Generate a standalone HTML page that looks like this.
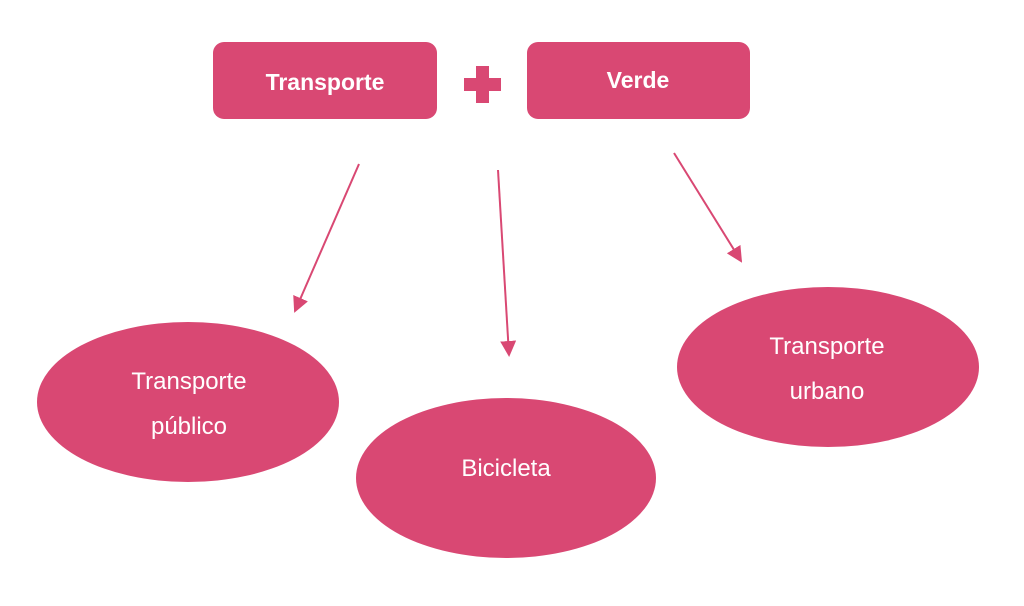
<!DOCTYPE html>
<html><head><meta charset="utf-8"><style>
html,body{margin:0;padding:0;background:#fff;}
svg{display:block;}
text{font-family:"Liberation Sans",sans-serif;fill:#fff;}
</style></head><body>
<svg width="1024" height="606" viewBox="0 0 1024 606" xmlns="http://www.w3.org/2000/svg">
<defs>
<marker id="ah" markerWidth="16" markerHeight="16" refX="14" refY="8" orient="auto" markerUnits="userSpaceOnUse">
<path d="M0,0 L16,8 L0,16 z" fill="#d94873"/>
</marker>
</defs>
<rect x="213" y="42" width="224" height="77" rx="11" fill="#d94873"/>
<rect x="527" y="42" width="223" height="77" rx="11" fill="#d94873"/>
<rect x="476" y="66" width="13" height="37" fill="#d94873"/>
<rect x="464" y="78" width="37" height="13" fill="#d94873"/>
<text x="325" y="90" font-size="23" font-weight="bold" text-anchor="middle">Transporte</text>
<text x="638" y="88" font-size="23" font-weight="bold" text-anchor="middle">Verde</text>
<g stroke="#d94873" stroke-width="2" fill="none">
<line x1="359" y1="164" x2="295" y2="311" marker-end="url(#ah)"/>
<line x1="498" y1="170" x2="509" y2="355" marker-end="url(#ah)"/>
<line x1="674" y1="153" x2="741" y2="261" marker-end="url(#ah)"/>
</g>
<ellipse cx="188" cy="402" rx="151" ry="80" fill="#d94873"/>
<ellipse cx="506" cy="478" rx="150" ry="80" fill="#d94873"/>
<ellipse cx="828" cy="367" rx="151" ry="80" fill="#d94873"/>
<g font-size="24" text-anchor="middle">
<text x="189" y="389">Transporte</text>
<text x="189" y="434">público</text>
<text x="506" y="476">Bicicleta</text>
<text x="827" y="354">Transporte</text>
<text x="827" y="399">urbano</text>
</g>
</svg>
</body></html>
